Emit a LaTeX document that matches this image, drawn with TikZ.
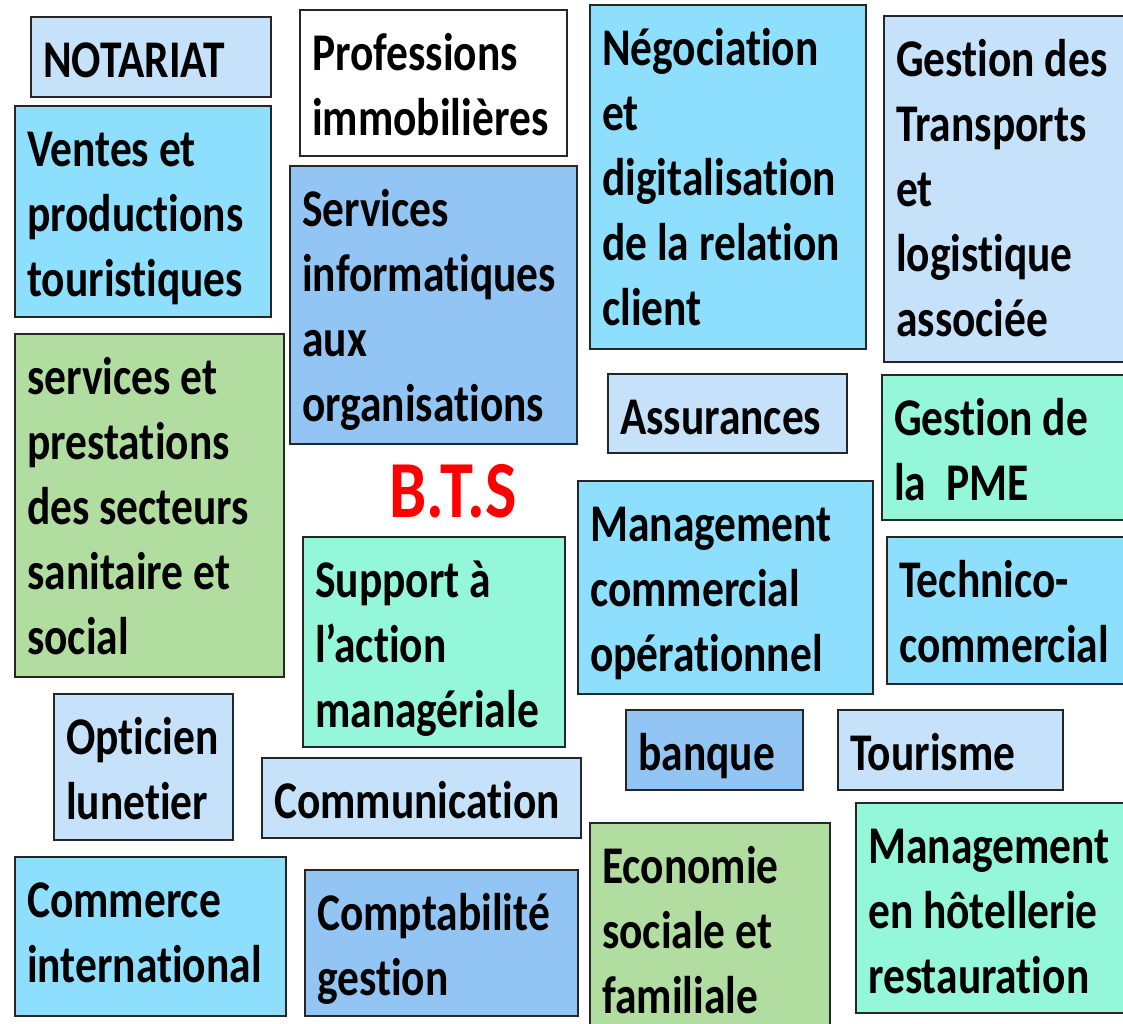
\documentclass[tikz,border=0pt]{standalone}
\usepackage{fontspec}
\newfontfamily\boxfont[FakeStretch=0.82,Ligatures={NoCommon}]{Carlito}
\definecolor{lblue}{HTML}{C6E1FA}
\definecolor{cyanb}{HTML}{8EDFFD}
\definecolor{midb}{HTML}{93C5F4}
\definecolor{greenb}{HTML}{B2DDA0}
\definecolor{mintb}{HTML}{95F7DA}
\definecolor{edge}{HTML}{262626}
\definecolor{btsred}{HTML}{FF0000}
\tikzset{
  boxshape/.style={draw=edge, line width=2.5pt, rectangle, inner sep=0pt, outer sep=0pt},
  boxtext/.style={anchor=north west, inner sep=0pt, align=left,
    font=\boxfont\bfseries\fontsize{53}{65}\selectfont, text=black},
}
% #1 name, #2 x1, #3 y1, #4 x2, #5 y2, #6 colour, #7 text
\newcommand\mybox[7]{%
  \node[boxshape, fill=#6, minimum width={(#4-#2)*1pt}, minimum height={(#5-#3)*1pt}]
    (#1) at ({(#2+#4)/2},{(#3+#5)/2}) {};
  \node[boxtext] (#1-t) at ([shift={(12pt,-10pt)}]#1.north west) {\rule{0pt}{50pt}#7};
}
\begin{document}
\begin{tikzpicture}[x=1pt,y=-1pt]
\useasboundingbox[fill=white] (0,0) rectangle (1123,1024);
\mybox{notariat}{31}{17}{271}{97}{lblue}{NOTARIAT}
\mybox{immo}{300}{10}{567}{156}{white}{Professions\\immobilières}
\mybox{nego}{590}{5}{866}{349}{cyanb}{Négociation\\et\\digitalisation\\de la relation\\client}
\mybox{transp}{884}{16}{1130}{362}{lblue}{Gestion des\\Transports\\et\\logistique\\associée}
\mybox{ventes}{15}{106}{271}{317}{cyanb}{Ventes et\\productions\\touristiques}
\mybox{sio}{290}{166}{577}{444}{midb}{Services\\informatiques\\aux\\organisations}
\mybox{sp3s}{15}{334}{284}{677}{greenb}{services et\\prestations\\des secteurs\\sanitaire et\\social}
\mybox{assur}{608}{374}{847}{453}{lblue}{Assurances}
\mybox{pme}{882}{375}{1130}{520}{mintb}{Gestion de\\la\ \ PME}
\mybox{mco}{578}{481}{873}{694}{cyanb}{Management\\commercial\\opérationnel}
\mybox{sam}{303}{537}{565}{747}{mintb}{Support à\\l’action\\managériale}
\mybox{techno}{887}{537}{1130}{684}{cyanb}{Technico-\\commercial}
\mybox{optic}{54}{694}{233}{840}{lblue}{Opticien\\lunetier}
\mybox{comm}{262}{758}{581}{838}{lblue}{Communication}
\mybox{banque}{626}{710}{803}{790}{midb}{banque}
\mybox{tourisme}{838}{710}{1063}{790}{lblue}{Tourisme}
\mybox{ci}{15}{857}{286}{1016}{cyanb}{Commerce\\international}
\mybox{cg}{305}{870}{578}{1016}{midb}{Comptabilité\\gestion}
\mybox{esf}{590}{823}{830}{1040}{greenb}{Economie\\sociale et\\familiale}
\mybox{mhr}{856}{803}{1130}{1013}{mintb}{Management\\en hôtellerie\\restauration}
\node[anchor=base, inner sep=0pt, text=btsred, font=\boxfont\bfseries\fontsize{81}{90}\selectfont] (bts) at (453,517) {B.T.S};
\end{tikzpicture}
\end{document}
